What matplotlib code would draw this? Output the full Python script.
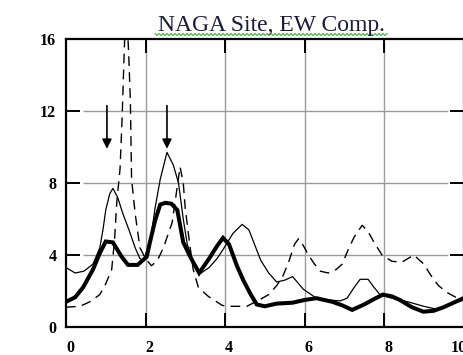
import matplotlib
matplotlib.use("Agg")
import matplotlib.pyplot as plt
import matplotlib.transforms as mtransforms
import numpy as np

# spectral ratio curves, NAGA site EW component
freq_bold = [0, 0.23, 0.43, 0.68, 0.85, 1.0, 1.18, 1.4, 1.56, 1.8, 2.03, 2.1,
             2.24, 2.37, 2.5, 2.65, 2.8, 2.95, 3.15, 3.35, 3.6, 3.8, 3.95,
             4.1, 4.3, 4.46, 4.65, 4.8, 5.0, 5.3, 5.7, 6.0, 6.3, 6.7, 6.95,
             7.2, 7.5, 7.75, 7.97, 8.2, 8.4, 8.7, 8.99, 9.25, 9.5, 9.75, 10]
amp_bold = [1.4, 1.65, 2.2, 3.2, 4.1, 4.75, 4.7, 3.9, 3.45, 3.45, 3.9, 4.6,
            5.9, 6.8, 6.9, 6.85, 6.5, 4.7, 3.8, 3.0, 3.8, 4.5, 4.95,
            4.6, 3.4, 2.6, 1.8, 1.25, 1.15, 1.3, 1.35, 1.5, 1.6, 1.4, 1.2,
            0.95, 1.25, 1.55, 1.8, 1.7, 1.5, 1.1, 0.85, 0.9, 1.1, 1.35, 1.6]

freq_thin = [0, 0.23, 0.45, 0.68, 0.85, 0.93, 1.0, 1.1, 1.18, 1.3, 1.43, 1.6,
             1.74, 1.86, 1.95, 2.05, 2.15, 2.24, 2.37, 2.54, 2.7, 2.83, 2.95,
             3.05, 3.2, 3.4, 3.6, 3.8, 3.95, 4.2, 4.43, 4.6, 4.9, 5.1, 5.3,
             5.5, 5.7, 5.97, 6.3, 6.6, 6.9, 7.07, 7.25, 7.4, 7.6, 7.75, 7.9,
             8.2, 8.6, 9.0, 9.3, 9.6, 9.8, 10]
amp_thin = [3.3, 3.0, 3.1, 3.5, 4.4, 5.4, 6.5, 7.4, 7.7, 7.2, 6.3, 5.3,
            4.4, 3.8, 3.7, 4.3, 5.2, 6.6, 8.2, 9.7, 9.0, 8.0, 6.0,
            4.6, 3.6, 3.0, 3.3, 3.8, 4.3, 5.2, 5.7, 5.4, 3.7, 3.0, 2.5,
            2.6, 2.8, 2.1, 1.6, 1.5, 1.45, 1.6, 2.2, 2.65, 2.65, 2.2, 1.8,
            1.6, 1.4, 1.15, 1.0, 1.15, 1.35, 1.5]

freq_dash = [0, 0.35, 0.6, 0.85, 1.0, 1.15, 1.22, 1.28, 1.36, 1.41, 1.46, 1.5,
             1.54, 1.58, 1.62, 1.65, 1.74, 1.86, 2.0, 2.15, 2.3, 2.45, 2.67,
             2.78, 2.87, 2.95, 3.0, 3.1, 3.2, 3.33, 3.58, 3.93, 4.1, 4.55,
             4.9, 5.1, 5.3, 5.45, 5.6, 5.75, 5.85, 5.95, 6.1, 6.25, 6.4, 6.6,
             6.8, 6.95, 7.1, 7.25, 7.45, 7.6, 7.75, 7.95, 8.2, 8.45, 8.6,
             8.75, 9.0, 9.17, 9.37, 9.6, 9.85, 10]
amp_dash = [1.1, 1.15, 1.4, 1.8, 2.4, 3.2, 4.8, 7.0, 8.8, 11.5, 15.0, 17.5,
            17.0, 15.0, 12.5, 8.2, 6.3, 4.4, 3.8, 3.4, 3.7, 4.4, 5.8,
            7.5, 8.9, 8.0, 6.6, 4.8, 3.2, 2.2, 1.7, 1.2, 1.15, 1.15,
            1.55, 1.8, 2.3, 2.8, 3.6, 4.6, 4.9, 4.6, 4.0, 3.5, 3.1, 3.0,
            3.2, 3.5, 4.3, 5.0, 5.65, 5.3, 4.7, 4.0, 3.65, 3.6, 3.8,
            4.0, 3.5, 2.9, 2.3, 1.9, 1.6, 1.5]

# predominant peaks marked with arrows
arrow_x = [1.03, 2.54]
arrow_from, arrow_to = 12.3, 9.9

x_ticks = [0, 2, 4, 6, 8, 10]
y_ticks = [0, 4, 8, 12, 16]

SERIF = "Liberation Serif"
GRID = "#9a9a9a"

fig = plt.figure(figsize=(4.63, 3.55), dpi=100)
ax = fig.add_axes([66 / 463, 1 - 327 / 355, 397.5 / 463, 288 / 355])
ax.set_xlim(0, 10)
ax.set_ylim(0, 16)

for x in x_ticks[1:-1]:
    ax.axvline(x, color=GRID, lw=1.0, zorder=1)
ax.hlines(y_ticks[1:-1], 0.43, 9.6, color=GRID, lw=1.0, zorder=1)

ax.plot(freq_dash, amp_dash, color="black", lw=1.0, dashes=(7, 4.5),
        zorder=3)
ax.plot(freq_thin, amp_thin, color="black", lw=0.9, zorder=3)
ax.plot(freq_bold, amp_bold, color="black", lw=2.9, zorder=4,
        solid_joinstyle="miter")

for x in arrow_x:
    ax.annotate("", xy=(x, arrow_to), xytext=(x, arrow_from),
                arrowprops=dict(arrowstyle="-|>", color="black", lw=1.2,
                                mutation_scale=14, shrinkA=0, shrinkB=0),
                zorder=5)

ax.set_xticks(x_ticks)
ax.set_yticks(y_ticks)
ax.tick_params(direction="in", length=10, width=1.4, color="black",
               top=True, right=True, labelsize=11.5)
ax.tick_params(axis="y", pad=7)
ax.tick_params(axis="x", pad=9)
for lab in ax.get_xticklabels() + ax.get_yticklabels():
    lab.set_fontfamily(SERIF)
    lab.set_fontweight("bold")
xlabs = ax.get_xticklabels()
for lab in xlabs[:-1]:
    lab.set_transform(lab.get_transform() + mtransforms.ScaledTranslation(
        4 / 100, 0, fig.dpi_scale_trans))
xlabs[-1].set_transform(xlabs[-1].get_transform() +
                        mtransforms.ScaledTranslation(-5 / 100, 0,
                                                      fig.dpi_scale_trans))
for sp in ax.spines.values():
    sp.set_linewidth(1.6)
    sp.set_color("black")

fig.text(271 / 463, 1 - 31 / 355, "NAGA Site, EW Comp.", ha="center",
         va="baseline", fontsize=17, family=SERIF, color="#1c1c3a")

# wavy underline beneath the title
zx = np.arange(155, 389, 2)
zy = np.where(np.arange(len(zx)) % 2 == 0, 33.5, 35.5)
fig.add_artist(plt.Line2D(zx / 463, 1 - zy / 355, color="#3cb043", lw=0.8,
                          transform=fig.transFigure))

fig.savefig("out.png", dpi=100)
